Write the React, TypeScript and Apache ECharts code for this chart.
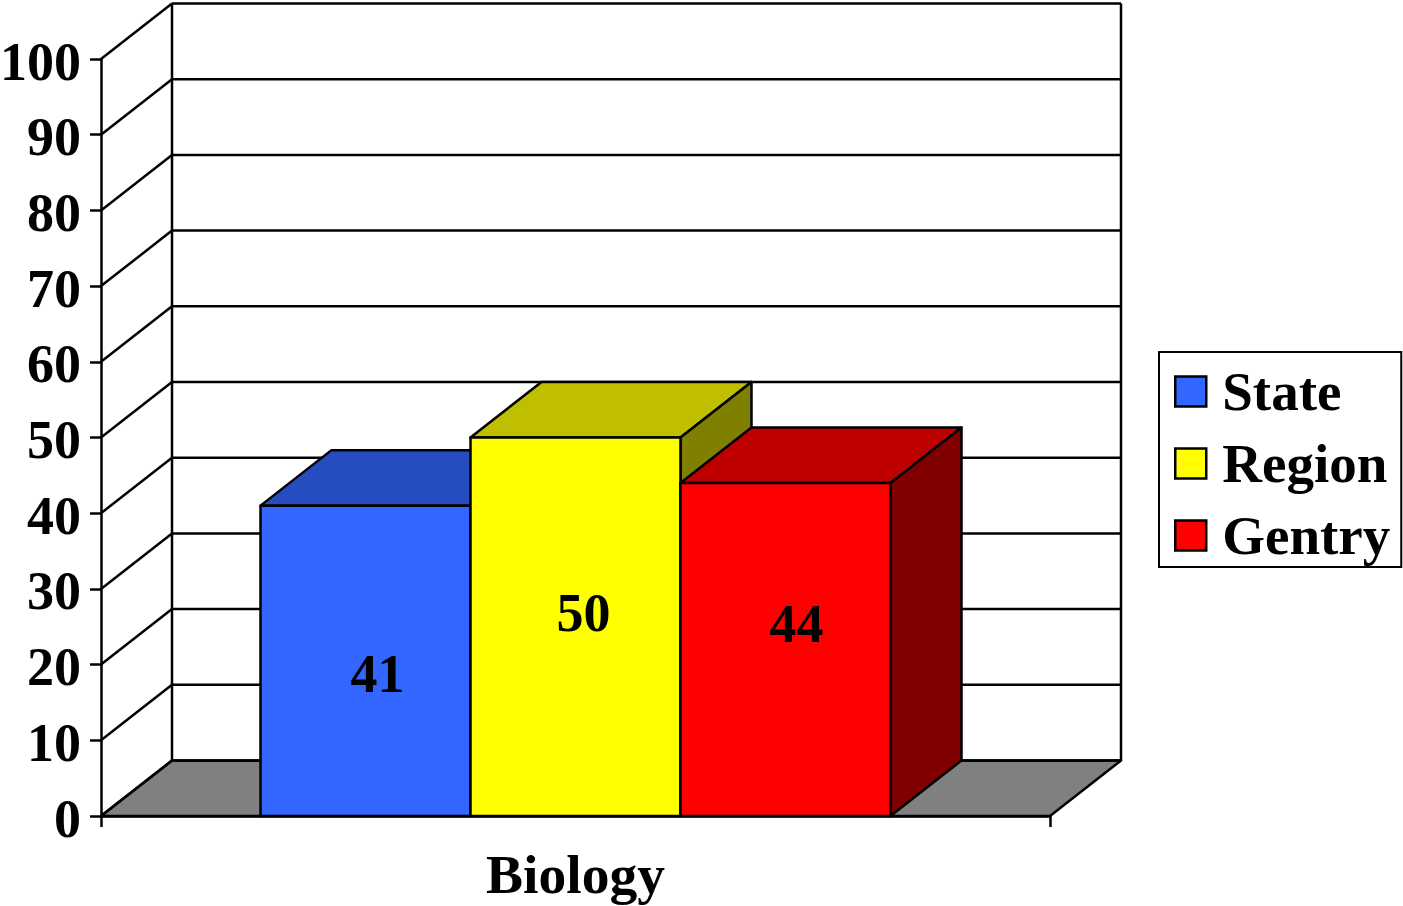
import React, { useEffect, useRef } from "react";
import * as echarts from "echarts";

const categories = ["Biology"];
const seriesNames = ["State", "Region", "Gentry"];
const stateValues = [41];
const regionValues = [50];
const gentryValues = [44];
const yTicks = [0, 10, 20, 30, 40, 50, 60, 70, 80, 90, 100];

const FONT = '"Liberation Serif", "Times New Roman", serif';
const DEPTH_X = 71;
const DEPTH_Y = -55.5;
const BAR_FRACTION = 210 / 949;
const LINE = "#000000";
const STROKE = 2.5;

const palette = [
  { front: "#3366FF", top: "#264DBF", side: "#1A3380" },
  { front: "#FFFF00", top: "#BFBF00", side: "#808000" },
  { front: "#FF0000", top: "#BF0000", side: "#800000" },
];
const labelShift = [
  { dx: 12, dy: 13 },
  { dx: 8, dy: -14 },
  { dx: 11, dy: -25 },
];

function wallItem(_params: any, api: any) {
  const tick = api.value(0);
  const [x0, y] = api.coord([0, tick]);
  const band = api.size([1, 0])[0];
  const left = x0 - band / 2;
  const right = x0 + band / 2;
  const stroke = { stroke: LINE, lineWidth: STROKE, fill: "none" };
  const children: any[] = [];
  if (tick === 0) {
    children.push({
      type: "polygon",
      shape: {
        points: [
          [left, y],
          [right, y],
          [right + DEPTH_X, y + DEPTH_Y],
          [left + DEPTH_X, y + DEPTH_Y],
        ],
      },
      style: { fill: "#808080", stroke: LINE, lineWidth: STROKE, lineJoin: "round" },
    });
    const top = api.coord([0, 100])[1];
    children.push(
      {
        type: "line",
        shape: { x1: left + DEPTH_X, y1: y + DEPTH_Y, x2: left + DEPTH_X, y2: top + DEPTH_Y },
        style: stroke,
      },
      {
        type: "line",
        shape: { x1: right + DEPTH_X, y1: y + DEPTH_Y, x2: right + DEPTH_X, y2: top + DEPTH_Y },
        style: stroke,
      },
    );
  }
  children.push(
    {
      type: "line",
      shape: { x1: left, y1: y, x2: left + DEPTH_X, y2: y + DEPTH_Y },
      style: stroke,
    },
    {
      type: "line",
      shape: { x1: left + DEPTH_X, y1: y + DEPTH_Y, x2: right + DEPTH_X, y2: y + DEPTH_Y },
      style: stroke,
    },
  );
  return { type: "group", children };
}

function barItem(index: number) {
  return (_params: any, api: any) => {
    const value = api.value(1);
    const [cx, yTop] = api.coord([api.value(0), value]);
    const yBase = api.coord([api.value(0), 0])[1];
    const width = api.size([1, 0])[0] * BAR_FRACTION;
    const x1 = cx + (index - 1.5) * width;
    const x2 = x1 + width;
    const colors = palette[index];
    const edge = { stroke: LINE, lineWidth: STROKE, lineJoin: "round" };
    return {
      type: "group",
      children: [
        {
          type: "polygon",
          shape: {
            points: [
              [x1, yTop],
              [x2, yTop],
              [x2 + DEPTH_X, yTop + DEPTH_Y],
              [x1 + DEPTH_X, yTop + DEPTH_Y],
            ],
          },
          style: { fill: colors.top, ...edge },
        },
        {
          type: "polygon",
          shape: {
            points: [
              [x2, yTop],
              [x2 + DEPTH_X, yTop + DEPTH_Y],
              [x2 + DEPTH_X, yBase + DEPTH_Y],
              [x2, yBase],
            ],
          },
          style: { fill: colors.side, ...edge },
        },
        {
          type: "rect",
          shape: { x: x1, y: yTop, width, height: yBase - yTop },
          style: { fill: colors.front, ...edge },
        },
        {
          type: "text",
          style: {
            text: String(value),
            x: (x1 + x2) / 2 + labelShift[index].dx,
            y: (yTop + yBase) / 2 + labelShift[index].dy,
            align: "center",
            verticalAlign: "middle",
            fill: "#000000",
            fontFamily: FONT,
            fontWeight: "bold",
            fontSize: 54,
          },
        },
      ],
    };
  };
}

export default function App() {
  const ref = useRef<HTMLDivElement>(null);
  useEffect(() => {
    if (!ref.current) return;
    const chart = echarts.init(ref.current, null, { renderer: "svg" });
    const valueLists = [stateValues, regionValues, gentryValues];
    chart.setOption({
      animation: false,
      backgroundColor: "#FFFFFF",
      textStyle: { fontFamily: FONT },
      grid: {
        left: 101,
        top: 59,
        width: 949,
        height: 757,
        containLabel: false,
        outerBoundsMode: "none",
      },
      xAxis: {
        type: "category",
        data: categories,
        axisLine: { show: true, lineStyle: { color: LINE, width: STROKE } },
        axisTick: { show: true, length: 11, lineStyle: { color: LINE, width: STROKE } },
        axisLabel: { color: "#000", fontFamily: FONT, fontWeight: "bold", fontSize: 55.5, margin: 30 },
      },
      yAxis: {
        type: "value",
        min: 0,
        max: 100,
        interval: 10,
        axisLine: { show: true, lineStyle: { color: LINE, width: STROKE } },
        axisTick: { show: true, length: 11, lineStyle: { color: LINE, width: STROKE } },
        splitLine: { show: false },
        axisLabel: {
          margin: 20,
          formatter: "{n|{value}}",
          rich: {
            n: {
              color: "#000",
              fontFamily: FONT,
              fontWeight: "bold",
              fontSize: 54,
              lineHeight: 60,
              padding: [5, 0, 0, 0],
            },
          },
        },
      },
      legend: {
        show: true,
        orient: "vertical",
        left: 1159,
        top: 352,
        data: seriesNames,
        icon: "rect",
        itemWidth: 31,
        itemHeight: 30,
        itemGap: 17,
        padding: [12, 11, 4, 15],
        borderColor: LINE,
        borderWidth: 2,
        backgroundColor: "#FFFFFF",
        selectedMode: false,
        itemStyle: { borderColor: LINE, borderWidth: 2.5 },
        textStyle: {
          color: "#000",
          fontFamily: FONT,
          fontWeight: "bold",
          fontSize: 55,
          padding: [0, 0, 0, 11],
        },
      },
      series: [
        {
          name: "walls",
          type: "custom",
          coordinateSystem: "cartesian2d",
          renderItem: wallItem,
          data: yTicks.map((t) => [t]),
          encode: { y: 0 },
          silent: true,
          z: 1,
        },
        ...seriesNames.map((name, i) => ({
          name,
          type: "custom",
          coordinateSystem: "cartesian2d",
          renderItem: barItem(i),
          itemStyle: { color: palette[i].front },
          data: valueLists[i].map((v, c) => [c, v]),
          encode: { x: 0, y: 1 },
          z: 2 + i,
        })),
      ],
    });
    return () => chart.dispose();
  }, []);
  return (
    <div
      ref={ref}
      style={{ position: "fixed", left: 0, top: 0, width: 1403, height: 906 }}
    />
  );
}
